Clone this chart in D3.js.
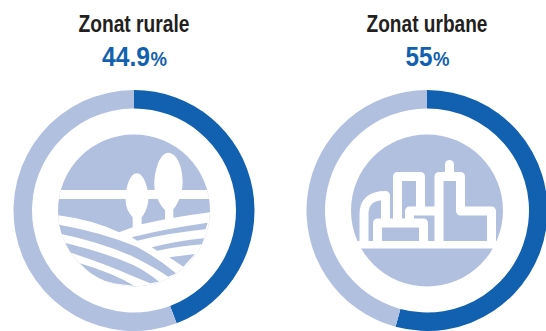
<!DOCTYPE html>
<html>
<head>
<meta charset="utf-8">
<script src="https://cdnjs.cloudflare.com/ajax/libs/d3/7.8.5/d3.min.js"></script>
<style>
  html, body { margin: 0; padding: 0; background: #fff; }
  svg { display: block; }
  text { font-family: "Liberation Sans", sans-serif; font-weight: 700; }
</style>
</head>
<body>
<div id="chart"></div>
<script>
const zones = ['Zonat rurale', 'Zonat urbane'];
const shareLabels = ['44.9', '55'];
const ringShares = [44.25, 54.2];

const width = 546;
const height = 331;
const centers = [134, 427];
const centerY = 210.5;
const outerRadius = 120.5;
const innerRadius = 102;
const discRadius = 76;
const dark = '#1261b0';
const light = '#b2c0e0';

const titleWidths = [111, 121];
const numberWidths = [48, 27];
const numberSplit = [16, 5.5];

const svg = d3.select('#chart').append('svg')
  .attr('width', width)
  .attr('height', height);

const pie = d3.pie().sort(null);
const arc = d3.arc().innerRadius(innerRadius).outerRadius(outerRadius);

// the reference face is condensed, so squeeze each text to its measured width
function fitText(x, y, size, color, targetWidth, label) {
  const t = svg.append('text')
    .attr('font-size', size)
    .attr('fill', color)
    .text(label);
  const sx = targetWidth / t.node().getComputedTextLength();
  t.attr('transform', `translate(${x},${y}) scale(${sx},1)`);
}

zones.forEach((zone, i) => {
  const g = svg.append('g')
    .attr('transform', `translate(${centers[i]},${centerY})`);

  g.selectAll('path')
    .data(pie([ringShares[i], 100 - ringShares[i]]))
    .join('path')
    .attr('d', arc)
    .attr('fill', (d, k) => k === 0 ? dark : light);

  g.append('circle').attr('r', discRadius).attr('fill', light);

  fitText(centers[i] - titleWidths[i] / 2, 32, 24, '#231f20', titleWidths[i], zone);
  fitText(centers[i] + numberSplit[i] - numberWidths[i], 66, 28, dark, numberWidths[i], shareLabels[i]);
  fitText(centers[i] + numberSplit[i] + 0.5, 66, 20, dark, 16.5, '%');
});

// rural icon
svg.append('defs').append('clipPath').attr('id', 'disc-left')
  .append('circle').attr('cx', centers[0]).attr('cy', centerY).attr('r', discRadius);

const rural = svg.append('g').attr('clip-path', 'url(#disc-left)');
rural.append('rect')
  .attr('x', 50).attr('y', 190)
  .attr('width', 170).attr('height', 9)
  .attr('fill', '#fff');

const trees = rural.append('g')
  .attr('transform', 'translate(40,130) scale(0.3333)')
  .attr('fill', '#fff');
trees.append('path').attr('d', 'M385 68 C360 68 343 120 343 165 C343 195 360 225 375 240 L375 270 L400 270 L400 238 C415 220 428 190 428 155 C428 110 410 68 385 68 Z');
trees.append('path').attr('d', 'M291 130 C270 130 257 170 257 210 C257 235 268 250 278 262 L278 295 L305 295 L305 262 C315 250 325 230 325 205 C325 170 310 130 291 130 Z');

const land = rural.append('g').attr('transform', 'translate(50,205) scale(0.3333)');
land.append('path')
  .attr('fill', '#fff')
  .attr('d', 'M0 28 Q120 40 207 82 L250 66 L275 58 Q370 35 510 18 L510 280 L0 280 Z');

const furrows = [
  'M10 56 Q150 80 260 125 Q325 160 378 205 L355 215 Q310 185 250 155 Q150 110 10 82 Z',
  'M30 110 Q160 140 250 180 Q290 200 327 230 L300 235 Q270 222 240 210 Q150 170 30 133 Z',
  'M90 175 Q190 205 252 242 Q170 235 130 215 Z',
  'M245 97 Q340 72 473 53 L467 73 Q350 85 262 107 Z',
  'M305 127 Q380 108 462 100 L456 118 Q400 122 322 137 Z',
  'M358 157 L435 147 L400 185 Z'
];
land.selectAll('path.furrow')
  .data(furrows)
  .join('path')
  .attr('class', 'furrow')
  .attr('d', d => d)
  .attr('fill', light);

// urban icon
const urban = svg.append('g')
  .attr('fill', 'none')
  .attr('stroke', '#fff')
  .attr('stroke-width', 9)
  .attr('stroke-linejoin', 'round');
[
  'M364 243 V214 Q364 195.5 385.5 195.5 V222',
  'M397.5 222 V176.5 H420.5 V211',
  'M409.5 222 V211 H439',
  'M377.5 243 V223 H423.5 V243',
  'M439 243 V176.5 H460.5 V211 H491.5 V243'
].forEach(d => urban.append('path').attr('d', d));
urban.append('path')
  .attr('d', 'M449.5 176 V164.5')
  .attr('stroke-linecap', 'round');

svg.append('rect')
  .attr('x', 350).attr('y', 241)
  .attr('width', 154).attr('height', 7.5)
  .attr('fill', '#fff');
</script>
</body>
</html>
